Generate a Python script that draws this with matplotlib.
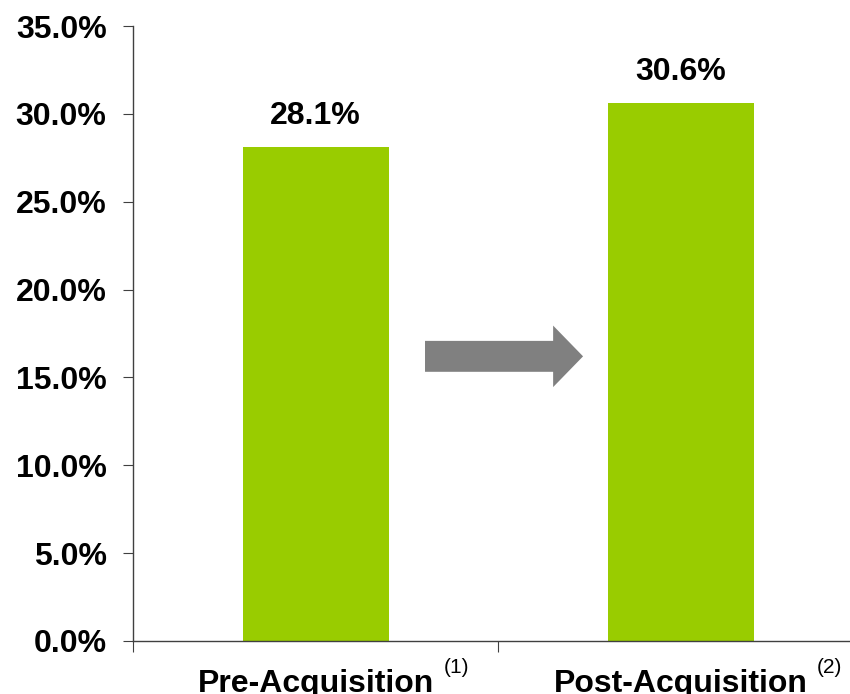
import matplotlib
matplotlib.use("Agg")
import matplotlib.pyplot as plt
from matplotlib.patches import FancyArrow
from matplotlib.ticker import FuncFormatter, MultipleLocator

# values shown on the chart
categories = ["Pre-Acquisition", "Post-Acquisition"]
notes = ["(1)", "(2)"]
margins = [28.1, 30.6]

plt.rcParams['font.family'] = ['Liberation Sans', 'DejaVu Sans']

fig = plt.figure(figsize=(8.5, 6.94), dpi=100)
# axis runs a little past the right edge of the figure
ax = fig.add_axes([0.1565, 0.0764, 0.8588, 0.8861])

x = list(range(len(categories)))
ax.bar(x, margins, width=0.4, color='#99CC00', zorder=2)

for xi, v in zip(x, margins):
    ax.annotate(f"{v:.1f}%", xy=(xi, v), xytext=(0, 12), textcoords='offset points',
                ha='center', va='bottom', fontsize=23, fontweight='bold')

ax.set_xlim(-0.5, 1.5)
ax.set_ylim(0, 35)
ax.yaxis.set_major_locator(MultipleLocator(5))
ax.yaxis.set_major_formatter(FuncFormatter(lambda v, p: f"{v:.1f}%"))

# tick marks only at category boundaries
ax.set_xticks([-0.5, 0.5, 1.5])
ax.set_xticklabels([])
ax.tick_params(axis='x', direction='out', length=8, color='#404040')
ax.tick_params(axis='y', direction='out', length=7, color='#404040', pad=12,
               labelsize=23)
for lab in ax.get_yticklabels():
    lab.set_fontweight('bold')

for s in ['top', 'right']:
    ax.spines[s].set_visible(False)
for s in ['left', 'bottom']:
    ax.spines[s].set_color('#404040')
    ax.spines[s].set_linewidth(1.0)

# category names with footnote markers
for xi, name, note in zip(x, categories, notes):
    t = ax.annotate(name, xy=(xi, 0), xycoords=('data', 'axes fraction'),
                    xytext=(0, -20), textcoords='offset points',
                    ha='center', va='top', fontsize=23, fontweight='bold')
    ax.annotate(note, xy=(1, 1), xycoords=t, xytext=(7, 8),
                textcoords='offset points', ha='left', va='top', fontsize=15)

# gray arrow between the bars
ax.add_patch(FancyArrow(0.3, 16.2, 0.433, 0, width=1.76, head_width=3.5,
                        head_length=0.082, length_includes_head=True,
                        color='#808080', lw=0, zorder=3))

fig.savefig("out.png", dpi=100)
